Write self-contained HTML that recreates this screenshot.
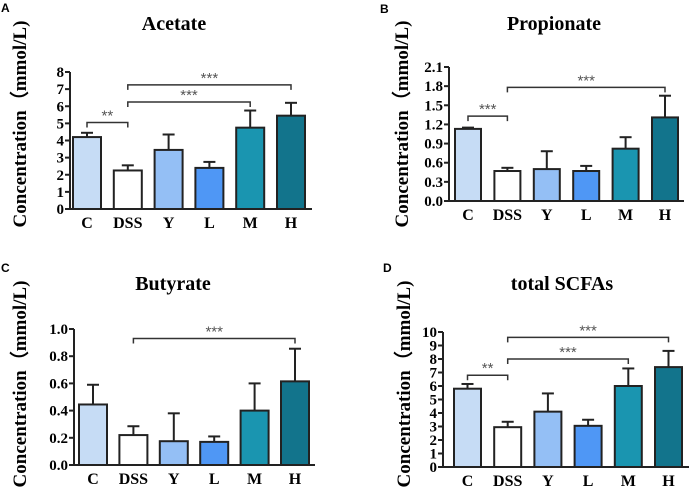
<!DOCTYPE html>
<html><head><meta charset="utf-8"><style>
body{margin:0;background:#fff}
svg text{font-family:"Liberation Serif",serif;font-weight:bold}
</style></head><body>
<svg id="s" width="692" height="492" xmlns="http://www.w3.org/2000/svg"></svg>
<script>
const categories=["C","DSS","Y","L","M","H"];
const colors=["#c6dcf5","#ffffff","#94bff5","#4f97f5","#1a95b0","#12748c"];
const acetateMean=[4.2,2.25,3.45,2.4,4.75,5.45];
const acetateErr=[0.25,0.3,0.9,0.35,1.0,0.75];
const acetateTicks=[0,1,2,3,4,5,6,7,8];
const propMean=[1.13,0.47,0.5,0.47,0.82,1.31];
const propErr=[0.02,0.05,0.28,0.08,0.18,0.34];
const propTicks=[0,0.3,0.6,0.9,1.2,1.5,1.8,2.1];
const butMean=[0.445,0.22,0.175,0.17,0.4,0.615];
const butErr=[0.145,0.065,0.205,0.04,0.2,0.24];
const butTicks=[0,0.2,0.4,0.6,0.8,1.0];
const totMean=[5.8,2.95,4.1,3.05,6.0,7.4];
const totErr=[0.35,0.4,1.35,0.45,1.3,1.2];
const totTicks=[0,1,2,3,4,5,6,7,8,9,10];
const acetateSig=[[0,1,5.05,"**"],[1,4,6.25,"***"],[1,5,7.25,"***"]];
const propSig=[[0,1,1.33,"***"],[1,5,1.78,"***"]];
const butSig=[[1,5,0.93,"***"]];
const totSig=[[0,1,6.8,"**"],[1,4,8.0,"***"],[1,5,9.6,"***"]];

const S=document.getElementById('s');const NS="http://www.w3.org/2000/svg";
function el(t,a,p){const e=document.createElementNS(NS,t);for(const k in a)e.setAttribute(k,a[k]);(p||S).appendChild(e);return e;}
function panel(o){
  const g=el('g',{});
  
  
  const ymax=o.ticks[o.ticks.length-1];
  const Y=v=>o.y0-(v/ymax)*(o.y0-o.ytop);
  const X=i=>o.b0+i*o.step;
  let t=el('text',{x:o.lx,y:o.ly,'font-size':12,style:'font-family:"Liberation Sans",sans-serif;font-weight:bold'},g);t.textContent=o.letter;
  
  t=el('text',{x:o.tx,y:o.ty,'font-size':20,'text-anchor':'middle'},g);t.textContent=o.title;
  
  t=el('text',{x:0,y:0,'font-size':19,'text-anchor':'middle',transform:`translate(${o.yl},${o.ylc}) rotate(-90)`},g);t.textContent="Concentration（mmol/L)";
  
  categories.forEach((c,i)=>{
    const x=X(i),top=Y(o.mean[i]),et=Y(o.mean[i]+o.err[i]),cx=x+o.bw/2;
    el('line',{x1:cx,y1:top,x2:cx,y2:et,stroke:'#222','stroke-width':2},g);
    el('line',{x1:cx-6,y1:et,x2:cx+6,y2:et,stroke:'#222','stroke-width':2},g);
    const r=el('rect',{x:x,y:top,width:o.bw,height:o.y0-top,fill:colors[i],stroke:'#222','stroke-width':2},g);
    
    const l=el('text',{x:cx,y:o.y0+19,'font-size':16,'text-anchor':'middle'},g);l.textContent=c;
    
  });
  el('line',{x1:o.ax,y1:o.y0,x2:o.axEnd,y2:o.y0,stroke:'#222','stroke-width':2},g);
  el('line',{x1:o.ax,y1:o.y0,x2:o.ax,y2:o.ytop,stroke:'#222','stroke-width':2},g);
  o.ticks.forEach(v=>{
    el('line',{x1:o.ax-5,y1:Y(v),x2:o.ax,y2:Y(v),stroke:'#222','stroke-width':2},g);
    const l=el('text',{x:o.ax-6,y:Y(v)+5,'font-size':15,'text-anchor':'end'},g);l.textContent=o.fmt(v);
    
  });
  o.sig.forEach(s=>{
    const x1=X(s[0])+o.bw/2,x2=X(s[1])+o.bw/2,y=Y(s[2]);
    const b=el('path',{d:`M${x1} ${y+5}V${y}H${x2}V${y+5}`,fill:'none',stroke:'#333','stroke-width':1.5},g);
    
    const st=el('text',{x:(x1+x2)/2,y:y-2,'font-size':15,'text-anchor':'middle',fill:'#555',style:'font-family:"Liberation Sans",sans-serif;font-weight:normal'},g);st.textContent=s[3];
    
  });
}
panel({name:'acetate',letter:'A',lx:1,ly:12,title:'Acetate',tx:174,ty:30,yl:26,ylc:124,ax:70,axEnd:312,y0:209,ytop:72,b0:73,step:40.8,bw:28,mean:acetateMean,err:acetateErr,ticks:acetateTicks,sig:acetateSig,fmt:v=>v});
panel({name:'propionate',letter:'B',lx:380,ly:13,title:'Propionate',tx:554,ty:30,yl:408,ylc:124,ax:449,axEnd:684,y0:201,ytop:67,b0:455,step:39.4,bw:26,mean:propMean,err:propErr,ticks:propTicks,sig:propSig,fmt:v=>v.toFixed(1)});
panel({name:'butyrate',letter:'C',lx:1,ly:272,title:'Butyrate',tx:173,ty:290,yl:26,ylc:384,ax:74,axEnd:315,y0:465,ytop:329,b0:79,step:40.4,bw:28,mean:butMean,err:butErr,ticks:butTicks,sig:butSig,fmt:v=>v.toFixed(1)});
panel({name:'total-scfas',letter:'D',lx:383,ly:272,title:'total SCFAs',tx:562,ty:290,yl:410,ylc:384,ax:443,axEnd:689,y0:467,ytop:332,b0:454,step:40.2,bw:27,mean:totMean,err:totErr,ticks:totTicks,sig:totSig,fmt:v=>v});
</script>
</body></html>
